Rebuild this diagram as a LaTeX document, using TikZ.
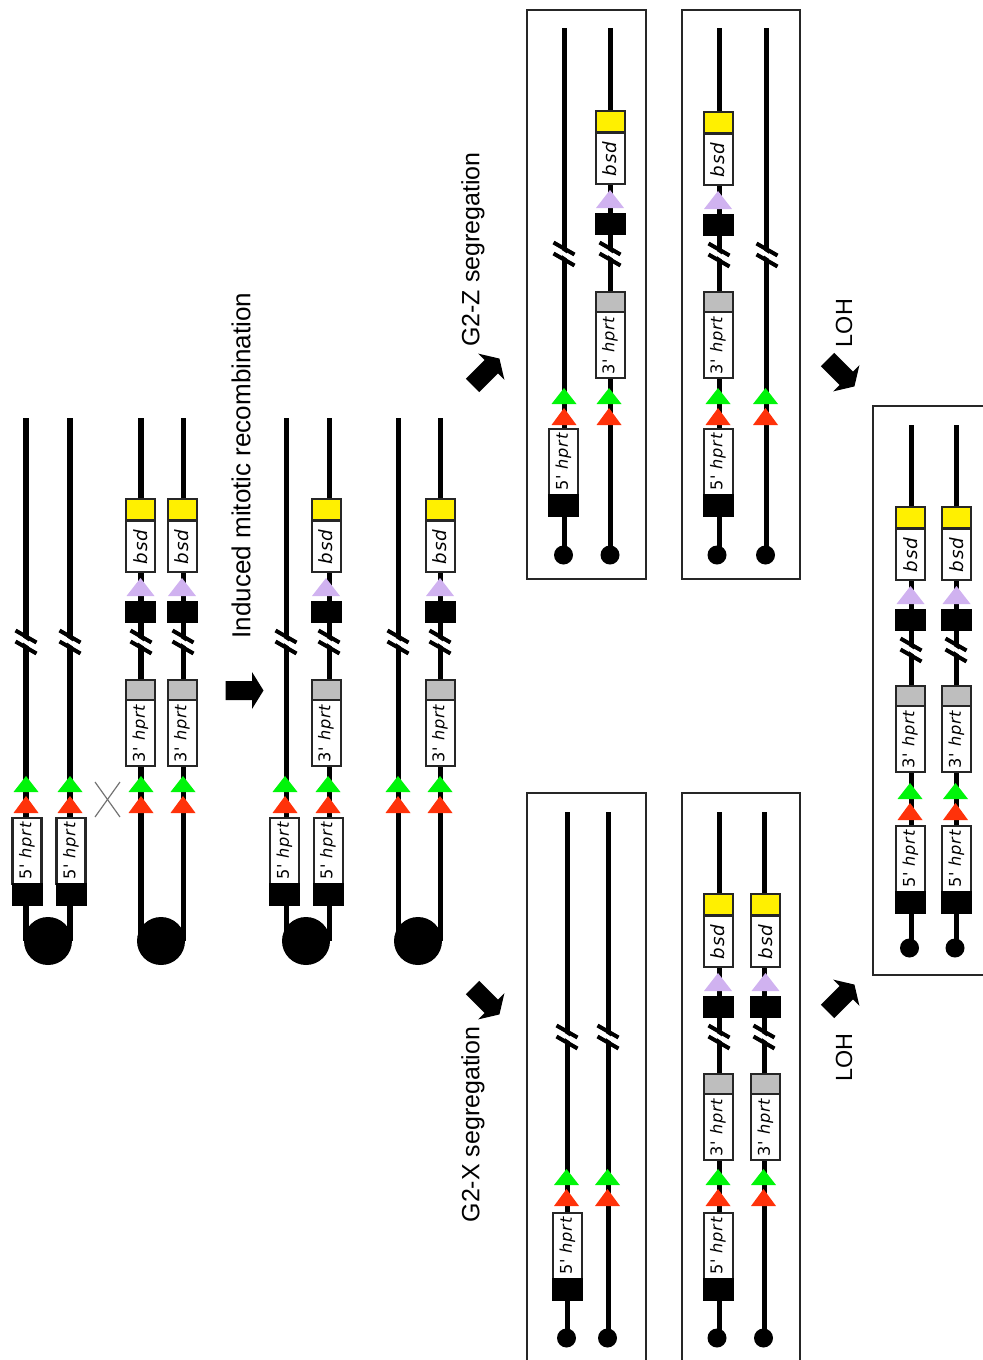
\documentclass[tikz,border=0pt]{standalone}
\usepackage{fontspec}
\setmainfont{Liberation Sans}
\newfontfamily\genefont[LetterSpace=5]{DejaVu Sans}
\definecolor{siteGreen}{RGB}{0,245,10}
\definecolor{siteRed}{RGB}{255,50,10}
\definecolor{sitePurple}{RGB}{208,178,240}
\definecolor{exonYellow}{RGB}{255,240,0}
\definecolor{exonGray}{RGB}{190,190,190}
\tikzset{
  chromline/.style={line width=0.05cm},
  partbox/.style={draw=black!85,line width=0.02cm},
  framebox/.style={draw=black!85,line width=0.02cm},
  genetext/.style={rotate=90,inner sep=0pt,font=\genefont\fontsize{4.6}{6}\selectfont},
  bsdtext/.style={rotate=90,inner sep=0pt,font=\genefont\fontsize{5.2}{6}\selectfont},
  steplabel/.style={rotate=90,inner sep=0pt,font=\fontsize{6.65}{8}\selectfont,text=black}
}
% bsd cassette with its yellow exon, purple site and black block
\newcommand{\bsdpart}[2]{%
  \begin{scope}[shift={(#1,#2)}]
    \fill[sitePurple] (0,578) -- (14,596) -- (-14,596) -- cycle;
    \draw[partbox,fill=white] (-14.5,521) rectangle (14.5,572);
    \draw[partbox,fill=exonYellow] (-14.5,499) rectangle (14.5,520);
    \fill[black] (-15.5,601) rectangle (15.5,623);
    \node[bsdtext] (bsd-#1-#2) at (0,546.5) {\textit{bsd}};
  \end{scope}}
% 3' hprt with its gray exon
\newcommand{\hprtthree}[2]{%
  \begin{scope}[shift={(#1,#2)}]
    \draw[partbox,fill=white] (-14.5,700) rectangle (14.5,766);
    \draw[partbox,fill=exonGray] (-14.5,680) rectangle (14.5,700);
    \node[genetext] (three-#1-#2) at (0,733) {3' \textit{hprt}};
  \end{scope}}
% 5' hprt with its black block
\newcommand{\hprtfive}[2]{%
  \begin{scope}[shift={(#1,#2)}]
    \draw[partbox,fill=white] (-14.5,818) rectangle (14.5,884);
    \fill[black] (-15.5,883) rectangle (15.5,906);
    \node[genetext] (five-#1-#2) at (0,850.5) {5' \textit{hprt}};
  \end{scope}}
% green and red sites
\newcommand{\sitepair}[2]{%
  \begin{scope}[shift={(#1,#2)}]
    \fill[siteGreen] (0,776) -- (12.5,792) -- (-12.5,792) -- cycle;
    \fill[siteRed] (0,796) -- (12.5,813) -- (-12.5,813) -- cycle;
  \end{scope}}
% break mark across a chromatid
\newcommand{\gapmark}[2]{%
  \begin{scope}[shift={(#1,642+#2)}]
    \draw[white,line width=0.04cm] (-9,-6) -- (9,6);
    \draw[line width=0.04cm] (-10.5,-11.5) -- (10.5,0.5);
    \draw[line width=0.04cm] (-10.5,-0.5) -- (10.5,11.5);
  \end{scope}}
% block arrow around a centre point
\newcommand{\blockarrow}[3]{%
  \begin{scope}[shift={(#1,#2)},rotate=#3]
    \fill[black] (-19,-9.5) -- (7.5,-9.5) -- (7.5,-18.5) -- (19,0) -- (7.5,18.5) -- (7.5,9.5) -- (-19,9.5) -- cycle;
  \end{scope}}
\begin{document}
\begin{tikzpicture}[x=0.01cm,y=-0.01cm]
  \useasboundingbox (0,0) rectangle (983,1360);
  \clip (0,0) rectangle (983,1360);

  % Drawing chromosome pair before recombination
  \draw[chromline] (26,418) -- (26,941);
  \draw[chromline] (70,418) -- (70,941);
  \draw[chromline] (141,418) -- (141,941);
  \draw[chromline] (183,418) -- (183,941);
  \fill (48,941) circle (24);
  \fill (161,941) circle (24);
  \gapmark{26}{0}
  \gapmark{70}{0}
  \gapmark{141}{0}
  \gapmark{183}{0}
  \sitepair{26}{0}
  \sitepair{70}{0}
  \sitepair{141}{0}
  \sitepair{183}{0}
  \hprtfive{27}{0}
  \hprtfive{71}{0}
  \bsdpart{140.5}{0}
  \bsdpart{182}{0}
  \hprtthree{140.5}{0}
  \hprtthree{182}{0}

  % Marking crossover
  \draw[black!55,line width=0.012cm] (95,782) -- (120,817);
  \draw[black!55,line width=0.012cm] (120,782) -- (95,817);

  % Drawing recombination arrow and its label
  \blockarrow{244.5}{690.5}{0}
  \node[steplabel,font=\fontsize{7.4}{9}\selectfont] (induced) at (241,465.5) {Induced mitotic recombination};

  % Drawing chromosome pair after recombination
  \draw[chromline] (286,418) -- (286,941);
  \draw[chromline] (329,418) -- (329,941);
  \draw[chromline] (398,418) -- (398,941);
  \draw[chromline] (440,418) -- (440,941);
  \fill (306,941) circle (24);
  \fill (418,941) circle (24);
  \gapmark{286}{0}
  \gapmark{329}{0}
  \gapmark{398}{0}
  \gapmark{440}{0}
  \sitepair{285}{0}
  \sitepair{328}{0}
  \sitepair{398}{0}
  \sitepair{440}{0}
  \hprtfive{284.5}{0}
  \hprtfive{328}{0}
  \bsdpart{326}{0}
  \bsdpart{440}{0}
  \hprtthree{326}{0}
  \hprtthree{440}{0}

  % Drawing upper segregation arrow and its label
  \blockarrow{486}{372}{45}
  \node[steplabel,font=\fontsize{7.1}{9}\selectfont] (segz) at (473,249.5) {G2-Z segregation};

  % Drawing upper left frame
  \draw[framebox] (527,10) rectangle (646,579);
  \draw[chromline] (564,28) -- (564,555);
  \draw[chromline] (610,28) -- (610,555);
  \fill (563.5,555) circle (9.5);
  \fill (610,555) circle (9.5);
  \gapmark{564}{-388}
  \gapmark{610}{-388}
  \sitepair{564}{-388}
  \sitepair{609}{-388}
  \hprtfive{563.5}{-389}
  \bsdpart{610}{-388}
  \hprtthree{610}{-388}

  % Drawing upper right frame
  \draw[framebox] (681.5,10) rectangle (800,579);
  \draw[chromline] (719,28) -- (719,555);
  \draw[chromline] (766,28) -- (766,555);
  \fill (717,555) circle (9.5);
  \fill (765.5,555) circle (9.5);
  \gapmark{719}{-387}
  \gapmark{767}{-387}
  \sitepair{718}{-388}
  \sitepair{765.5}{-388}
  \hprtfive{718}{-389}
  \bsdpart{718}{-387}
  \hprtthree{718}{-388}

  % Drawing lower segregation arrow and its label
  \blockarrow{486}{1001}{-45}
  \node[steplabel,font=\fontsize{7.1}{9}\selectfont] (segx) at (473,1124.5) {G2-X segregation};

  % Drawing lower left frame
  \draw[framebox] (527,793) rectangle (646,1380);
  \draw[chromline] (567,812) -- (567,1338);
  \draw[chromline] (608,812) -- (608,1338);
  \fill (566.5,1338) circle (9.5);
  \fill (607.5,1338) circle (9.5);
  \gapmark{567}{395}
  \gapmark{608}{395}
  \sitepair{566.5}{393}
  \sitepair{607.5}{393}
  \hprtfive{567.5}{395}

  % Drawing lower right frame
  \draw[framebox] (681.5,793) rectangle (800,1380);
  \draw[chromline] (719,812) -- (719,1338);
  \draw[chromline] (764,812) -- (764,1338);
  \fill (717,1338) circle (9.5);
  \fill (763.5,1338) circle (9.5);
  \gapmark{719}{395}
  \gapmark{764}{395}
  \sitepair{718}{393}
  \sitepair{763.5}{393}
  \hprtfive{718}{395}
  \bsdpart{718}{395}
  \bsdpart{765.5}{395}
  \hprtthree{718}{394}
  \hprtthree{765.5}{394}

  % Drawing loss of heterozygosity arrows and their labels
  \blockarrow{841}{373}{-45}
  \node[steplabel] (lohtop) at (844,323) {LOH};
  \blockarrow{841}{998}{45}
  \node[steplabel] (lohbottom) at (844,1057.5) {LOH};

  % Drawing right frame
  \draw[framebox] (873,406) rectangle (1000,975);
  \draw[chromline] (911,425) -- (911,948);
  \draw[chromline] (956,425) -- (956,948);
  \fill (909.5,948) circle (9.5);
  \fill (955,948) circle (9.5);
  \gapmark{911}{8}
  \gapmark{956}{8}
  \sitepair{910}{7}
  \sitepair{955.5}{7}
  \hprtfive{910.5}{8}
  \hprtfive{956.5}{8}
  \bsdpart{910.5}{8}
  \bsdpart{956.5}{8}
  \hprtthree{910}{6}
  \hprtthree{956.5}{6}
\end{tikzpicture}
\end{document}
